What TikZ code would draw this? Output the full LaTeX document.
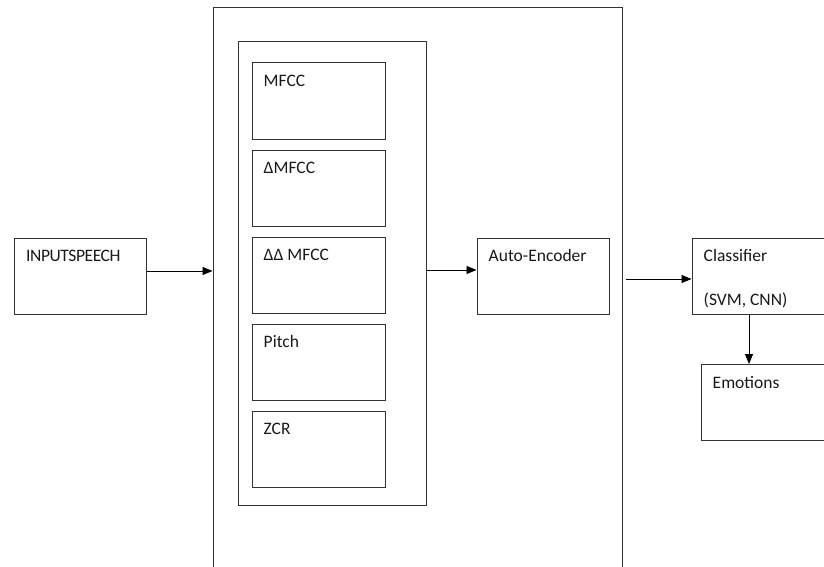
\documentclass[tikz,border=0pt]{standalone}
\usepackage{fontspec}
\setmainfont{Carlito}
\usetikzlibrary{arrows.meta}

\begin{document}
\begin{tikzpicture}[x=1pt, y=-1pt,
    box/.style={draw=black!80, line width=1pt, minimum width=132pt, minimum height=76pt, inner sep=0pt},
    lbl/.style={anchor=base west, inner sep=0pt, xshift=12pt, yshift=-24pt, text=black!90},
    arr/.style={-{Triangle[length=10pt,width=8pt]}, line width=0.9pt},
    font=\fontsize{17.5}{21}\selectfont]

    \useasboundingbox (0,0) rectangle (824,567);

    % vstup
    \node[box, label={[lbl]north west:{\addfontfeatures{LetterSpace=-2.5}INPUTSPEECH}}] (speech) at (80.5,276) {};

    % velky ramec
    \node[box, minimum width=409pt, minimum height=620pt] (extract) at (417.5,318) {};

    % priznaky
    \node[box, minimum width=188pt, minimum height=463pt] (feat) at (332,273.5) {};
    \foreach \flabel [count=\i] in {MFCC, ΔMFCC, ΔΔ MFCC, Pitch, ZCR}
        \node[box, minimum width=133pt, label={[lbl]north west:\flabel}] (f\i) at (318.5,14+87*\i) {};

    % autoenkoder
    \node[box, label={[lbl]north west:Auto-Encoder}] (encoder) at (543,276) {};

    % klasifikator
    \node[box, label={[lbl]north west:Classifier},
        label={[lbl, yshift=-44pt]north west:{(SVM, CNN)}}] (classifier) at (758,276) {};

    % emoce
    \node[box, label={[lbl]north west:Emotions}] (emotions) at (767,402.5) {};

    % sipky
    \draw[arr] ([yshift=5pt]speech.east) -- ([yshift=5pt]speech.east -| extract.west);
    \draw[arr] ([yshift=6pt]encoder.west -| feat.east) -- ([yshift=6pt]encoder.west);
    \draw[arr] ([xshift=3pt,yshift=-3pt]classifier.west -| extract.east) -- ([yshift=-3pt]classifier.west);
    \draw[arr] ([xshift=-9pt]classifier.south) -- ([xshift=-9pt]classifier.south |- emotions.north);
\end{tikzpicture}
\end{document}
